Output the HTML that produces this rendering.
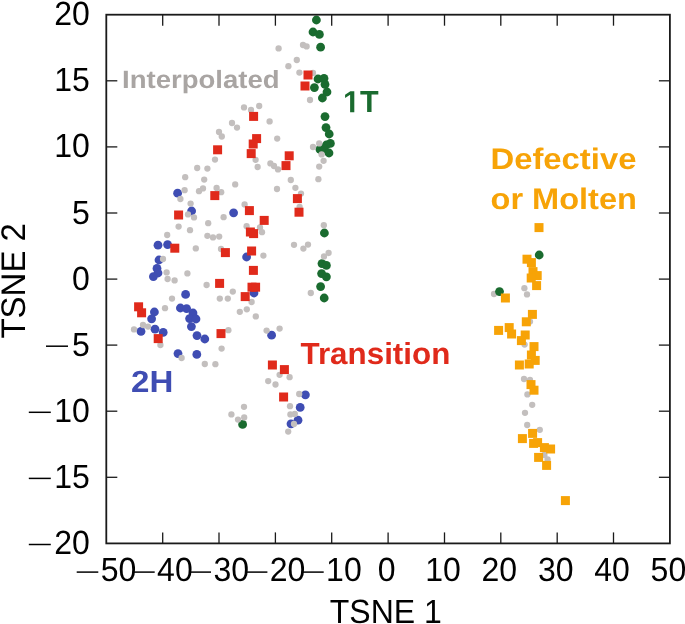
<!DOCTYPE html>
<html><head><meta charset="utf-8"><title>TSNE</title>
<style>
html,body{margin:0;padding:0;background:#fff;}
body{width:685px;height:624px;overflow:hidden;position:relative;font-family:"Liberation Sans",sans-serif;}
svg{position:absolute;left:0;top:0;display:block;will-change:transform;opacity:0.999;}
text{font-family:"Liberation Sans",sans-serif;text-rendering:geometricPrecision;}
.tk{font-size:33.5px;fill:#000;}
.b{font-weight:bold;}
</style></head><body>
<svg width="685" height="624" viewBox="0 0 685 624">
<g fill="#3f4db3"><circle cx="177.6" cy="193.2" r="4.40"/><circle cx="191.6" cy="211.0" r="4.40"/><circle cx="233.6" cy="212.8" r="4.40"/><circle cx="158.0" cy="245.2" r="4.40"/><circle cx="167.6" cy="244.6" r="4.40"/><circle cx="159.0" cy="260.0" r="4.40"/><circle cx="246.6" cy="257.0" r="4.40"/><circle cx="157.0" cy="268.4" r="4.40"/><circle cx="158.0" cy="273.0" r="4.40"/><circle cx="153.4" cy="276.6" r="4.40"/><circle cx="185.6" cy="294.4" r="4.40"/><circle cx="180.4" cy="308.0" r="4.40"/><circle cx="186.6" cy="308.6" r="4.40"/><circle cx="193.0" cy="313.0" r="4.40"/><circle cx="189.6" cy="318.6" r="4.40"/><circle cx="196.0" cy="319.0" r="4.40"/><circle cx="191.4" cy="326.6" r="4.40"/><circle cx="197.0" cy="335.6" r="4.40"/><circle cx="204.8" cy="339.0" r="4.40"/><circle cx="154.4" cy="312.0" r="4.40"/><circle cx="151.6" cy="318.8" r="4.40"/><circle cx="155.0" cy="329.2" r="4.40"/><circle cx="163.2" cy="332.4" r="4.40"/><circle cx="141.0" cy="331.4" r="4.40"/><circle cx="178.0" cy="353.6" r="4.40"/><circle cx="196.8" cy="354.4" r="4.40"/><circle cx="254.0" cy="293.0" r="4.40"/><circle cx="271.6" cy="335.2" r="4.40"/><circle cx="305.4" cy="394.8" r="4.40"/><circle cx="300.2" cy="407.4" r="4.40"/><circle cx="298.0" cy="420.2" r="4.40"/><circle cx="291.0" cy="423.8" r="4.40"/></g>
<g fill="#1a6b2f"><circle cx="316.4" cy="20.0" r="4.40"/><circle cx="313.0" cy="32.0" r="4.40"/><circle cx="319.4" cy="34.4" r="4.40"/><circle cx="320.6" cy="47.2" r="4.40"/><circle cx="318.0" cy="79.0" r="4.40"/><circle cx="324.0" cy="78.4" r="4.40"/><circle cx="325.0" cy="84.4" r="4.40"/><circle cx="314.4" cy="87.6" r="4.40"/><circle cx="327.0" cy="92.0" r="4.40"/><circle cx="322.4" cy="98.0" r="4.40"/><circle cx="325.0" cy="116.6" r="4.40"/><circle cx="326.0" cy="127.6" r="4.40"/><circle cx="329.2" cy="134.0" r="4.40"/><circle cx="330.4" cy="143.4" r="4.40"/><circle cx="326.4" cy="145.0" r="4.40"/><circle cx="320.0" cy="149.4" r="4.40"/><circle cx="324.0" cy="149.0" r="4.40"/><circle cx="329.0" cy="153.0" r="4.40"/><circle cx="324.4" cy="233.0" r="4.40"/><circle cx="322.0" cy="263.6" r="4.40"/><circle cx="326.4" cy="265.4" r="4.40"/><circle cx="321.6" cy="273.6" r="4.40"/><circle cx="326.4" cy="276.8" r="4.40"/><circle cx="320.6" cy="286.6" r="4.40"/><circle cx="324.2" cy="298.0" r="4.40"/><circle cx="242.6" cy="424.4" r="4.40"/></g>
<g fill="#c3bfbe"><circle cx="278.6" cy="48.4" r="3.15"/><circle cx="303.0" cy="45.0" r="3.15"/><circle cx="306.6" cy="46.4" r="3.15"/><circle cx="296.8" cy="60.0" r="3.15"/><circle cx="288.4" cy="66.2" r="3.15"/><circle cx="299.4" cy="72.6" r="3.15"/><circle cx="313.0" cy="73.0" r="3.15"/><circle cx="310.0" cy="100.0" r="3.15"/><circle cx="244.0" cy="107.4" r="3.15"/><circle cx="259.2" cy="106.0" r="3.15"/><circle cx="251.0" cy="110.0" r="3.15"/><circle cx="269.6" cy="121.4" r="3.15"/><circle cx="232.0" cy="123.0" r="3.15"/><circle cx="237.0" cy="127.6" r="3.15"/><circle cx="219.0" cy="132.0" r="3.15"/><circle cx="221.8" cy="136.5" r="3.15"/><circle cx="215.0" cy="159.6" r="3.15"/><circle cx="197.2" cy="168.0" r="3.15"/><circle cx="207.4" cy="168.6" r="3.15"/><circle cx="185.2" cy="177.2" r="3.15"/><circle cx="204.2" cy="179.6" r="3.15"/><circle cx="235.2" cy="184.4" r="3.15"/><circle cx="216.6" cy="188.0" r="3.15"/><circle cx="221.2" cy="192.2" r="3.15"/><circle cx="203.0" cy="188.4" r="3.15"/><circle cx="199.0" cy="191.2" r="3.15"/><circle cx="184.6" cy="190.2" r="3.15"/><circle cx="180.4" cy="199.0" r="3.15"/><circle cx="190.6" cy="203.6" r="3.15"/><circle cx="244.6" cy="204.4" r="3.15"/><circle cx="188.0" cy="214.4" r="3.15"/><circle cx="194.0" cy="217.4" r="3.15"/><circle cx="223.6" cy="217.2" r="3.15"/><circle cx="208.2" cy="223.2" r="3.15"/><circle cx="178.6" cy="226.6" r="3.15"/><circle cx="190.0" cy="230.2" r="3.15"/><circle cx="246.6" cy="226.2" r="3.15"/><circle cx="167.2" cy="235.0" r="3.15"/><circle cx="207.4" cy="235.8" r="3.15"/><circle cx="213.0" cy="237.4" r="3.15"/><circle cx="219.2" cy="236.6" r="3.15"/><circle cx="195.8" cy="248.4" r="3.15"/><circle cx="221.0" cy="249.0" r="3.15"/><circle cx="163.0" cy="259.0" r="3.15"/><circle cx="277.2" cy="138.6" r="3.15"/><circle cx="255.6" cy="159.8" r="3.15"/><circle cx="257.6" cy="167.0" r="3.15"/><circle cx="270.4" cy="163.4" r="3.15"/><circle cx="274.0" cy="166.0" r="3.15"/><circle cx="278.0" cy="169.4" r="3.15"/><circle cx="290.8" cy="180.0" r="3.15"/><circle cx="295.4" cy="187.8" r="3.15"/><circle cx="301.0" cy="193.6" r="3.15"/><circle cx="277.0" cy="189.0" r="3.15"/><circle cx="299.6" cy="207.0" r="3.15"/><circle cx="260.0" cy="227.4" r="3.15"/><circle cx="262.0" cy="232.2" r="3.15"/><circle cx="294.0" cy="244.8" r="3.15"/><circle cx="308.0" cy="244.6" r="3.15"/><circle cx="303.4" cy="248.6" r="3.15"/><circle cx="263.4" cy="255.6" r="3.15"/><circle cx="319.2" cy="143.4" r="3.15"/><circle cx="313.0" cy="147.0" r="3.15"/><circle cx="321.6" cy="154.4" r="3.15"/><circle cx="323.6" cy="160.8" r="3.15"/><circle cx="319.2" cy="166.6" r="3.15"/><circle cx="318.4" cy="179.2" r="3.15"/><circle cx="323.8" cy="225.2" r="3.15"/><circle cx="328.6" cy="253.0" r="3.15"/><circle cx="324.0" cy="256.4" r="3.15"/><circle cx="166.6" cy="272.4" r="3.15"/><circle cx="167.6" cy="279.0" r="3.15"/><circle cx="174.6" cy="280.4" r="3.15"/><circle cx="187.4" cy="273.4" r="3.15"/><circle cx="206.6" cy="285.0" r="3.15"/><circle cx="232.8" cy="291.6" r="3.15"/><circle cx="219.8" cy="298.6" r="3.15"/><circle cx="227.8" cy="298.6" r="3.15"/><circle cx="172.0" cy="298.6" r="3.15"/><circle cx="165.0" cy="308.2" r="3.15"/><circle cx="239.8" cy="311.8" r="3.15"/><circle cx="246.8" cy="309.3" r="3.15"/><circle cx="134.0" cy="329.4" r="3.15"/><circle cx="143.0" cy="325.0" r="3.15"/><circle cx="148.0" cy="326.6" r="3.15"/><circle cx="228.4" cy="330.2" r="3.15"/><circle cx="160.4" cy="345.0" r="3.15"/><circle cx="221.6" cy="348.6" r="3.15"/><circle cx="181.6" cy="358.0" r="3.15"/><circle cx="204.8" cy="364.0" r="3.15"/><circle cx="215.4" cy="364.2" r="3.15"/><circle cx="310.8" cy="293.0" r="3.15"/><circle cx="251.6" cy="302.0" r="3.15"/><circle cx="255.8" cy="316.4" r="3.15"/><circle cx="266.6" cy="330.6" r="3.15"/><circle cx="279.6" cy="328.6" r="3.15"/><circle cx="279.6" cy="374.8" r="3.15"/><circle cx="289.6" cy="377.2" r="3.15"/><circle cx="268.2" cy="381.1" r="3.15"/><circle cx="275.5" cy="384.5" r="3.15"/><circle cx="299.2" cy="394.0" r="3.15"/><circle cx="290.0" cy="406.2" r="3.15"/><circle cx="290.4" cy="414.4" r="3.15"/><circle cx="294.8" cy="414.0" r="3.15"/><circle cx="288.2" cy="431.6" r="3.15"/><circle cx="244.0" cy="406.8" r="3.15"/><circle cx="231.4" cy="414.4" r="3.15"/><circle cx="244.2" cy="417.4" r="3.15"/><circle cx="238.0" cy="419.6" r="3.15"/><circle cx="494.0" cy="294.0" r="3.15"/><circle cx="524.4" cy="288.2" r="3.15"/><circle cx="527.0" cy="294.4" r="3.15"/><circle cx="530.0" cy="321.6" r="3.15"/><circle cx="524.6" cy="344.6" r="3.15"/><circle cx="524.0" cy="379.0" r="3.15"/><circle cx="530.0" cy="380.0" r="3.15"/><circle cx="527.4" cy="394.4" r="3.15"/><circle cx="532.2" cy="404.8" r="3.15"/><circle cx="525.0" cy="412.8" r="3.15"/><circle cx="527.2" cy="425.0" r="3.15"/><circle cx="539.8" cy="429.8" r="3.15"/><circle cx="544.4" cy="455.0" r="3.15"/><circle cx="547.6" cy="459.4" r="3.15"/><circle cx="294.0" cy="424.0" r="3.15"/></g>
<g fill="#1a6b2f"><circle cx="539.2" cy="255.0" r="4.40"/><circle cx="499.5" cy="291.6" r="4.40"/></g>
<g fill="#e02a1b"><rect x="303.5" y="70.5" width="9.0" height="9.0"/><rect x="300.5" y="81.5" width="9.0" height="9.0"/><rect x="249.1" y="111.9" width="9.0" height="9.0"/><rect x="252.1" y="134.1" width="9.0" height="9.0"/><rect x="248.7" y="139.5" width="9.0" height="9.0"/><rect x="246.7" y="149.1" width="9.0" height="9.0"/><rect x="284.7" y="151.3" width="9.0" height="9.0"/><rect x="281.5" y="161.1" width="9.0" height="9.0"/><rect x="213.1" y="145.3" width="9.0" height="9.0"/><rect x="210.3" y="191.1" width="9.0" height="9.0"/><rect x="174.1" y="210.5" width="9.0" height="9.0"/><rect x="170.3" y="243.7" width="9.0" height="9.0"/><rect x="220.9" y="248.1" width="9.0" height="9.0"/><rect x="292.9" y="194.1" width="9.0" height="9.0"/><rect x="294.5" y="207.7" width="9.0" height="9.0"/><rect x="244.9" y="206.1" width="9.0" height="9.0"/><rect x="259.7" y="215.9" width="9.0" height="9.0"/><rect x="245.9" y="227.5" width="9.0" height="9.0"/><rect x="249.1" y="229.1" width="9.0" height="9.0"/><rect x="247.1" y="246.5" width="9.0" height="9.0"/><rect x="215.1" y="278.9" width="9.0" height="9.0"/><rect x="240.7" y="292.1" width="9.0" height="9.0"/><rect x="134.1" y="302.3" width="9.0" height="9.0"/><rect x="137.1" y="308.3" width="9.0" height="9.0"/><rect x="153.7" y="334.1" width="9.0" height="9.0"/><rect x="216.5" y="329.1" width="9.0" height="9.0"/><rect x="248.9" y="265.9" width="9.0" height="9.0"/><rect x="247.5" y="282.7" width="9.0" height="9.0"/><rect x="251.1" y="282.7" width="9.0" height="9.0"/><rect x="267.9" y="360.5" width="9.0" height="9.0"/><rect x="279.9" y="365.1" width="9.0" height="9.0"/><rect x="279.1" y="392.5" width="9.0" height="9.0"/></g>
<g fill="#f7a307"><rect x="534.5" y="223.1" width="9.0" height="9.0"/><rect x="522.5" y="254.7" width="9.0" height="9.0"/><rect x="526.9" y="258.1" width="9.0" height="9.0"/><rect x="528.5" y="267.1" width="9.0" height="9.0"/><rect x="532.7" y="271.1" width="9.0" height="9.0"/><rect x="526.7" y="273.5" width="9.0" height="9.0"/><rect x="532.1" y="281.1" width="9.0" height="9.0"/><rect x="500.9" y="293.5" width="9.0" height="9.0"/><rect x="527.9" y="309.9" width="9.0" height="9.0"/><rect x="521.8" y="317.3" width="9.0" height="9.0"/><rect x="504.7" y="323.1" width="9.0" height="9.0"/><rect x="494.1" y="325.9" width="9.0" height="9.0"/><rect x="507.1" y="329.5" width="9.0" height="9.0"/><rect x="520.7" y="330.5" width="9.0" height="9.0"/><rect x="516.9" y="336.1" width="9.0" height="9.0"/><rect x="529.5" y="342.1" width="9.0" height="9.0"/><rect x="526.9" y="350.5" width="9.0" height="9.0"/><rect x="530.7" y="355.9" width="9.0" height="9.0"/><rect x="524.7" y="359.5" width="9.0" height="9.0"/><rect x="514.9" y="360.5" width="9.0" height="9.0"/><rect x="526.5" y="380.1" width="9.0" height="9.0"/><rect x="529.5" y="385.7" width="9.0" height="9.0"/><rect x="528.1" y="428.9" width="9.0" height="9.0"/><rect x="517.9" y="434.1" width="9.0" height="9.0"/><rect x="529.1" y="438.9" width="9.0" height="9.0"/><rect x="533.1" y="438.1" width="9.0" height="9.0"/><rect x="539.9" y="443.1" width="9.0" height="9.0"/><rect x="546.1" y="444.5" width="9.0" height="9.0"/><rect x="534.1" y="452.9" width="9.0" height="9.0"/><rect x="542.1" y="460.9" width="9.0" height="9.0"/><rect x="560.9" y="496.1" width="9.0" height="9.0"/></g>
<rect x="106.3" y="14.7" width="563.6" height="528.7" fill="none" stroke="#1a1a1a" stroke-width="1.8"/>
<g stroke="#1a1a1a" stroke-width="1.3"><line x1="162.7" y1="14.7" x2="162.7" y2="25.7"/><line x1="162.7" y1="543.4" x2="162.7" y2="532.4"/><line x1="219.0" y1="14.7" x2="219.0" y2="25.7"/><line x1="219.0" y1="543.4" x2="219.0" y2="532.4"/><line x1="275.4" y1="14.7" x2="275.4" y2="25.7"/><line x1="275.4" y1="543.4" x2="275.4" y2="532.4"/><line x1="331.7" y1="14.7" x2="331.7" y2="25.7"/><line x1="331.7" y1="543.4" x2="331.7" y2="532.4"/><line x1="388.1" y1="14.7" x2="388.1" y2="25.7"/><line x1="388.1" y1="543.4" x2="388.1" y2="532.4"/><line x1="444.5" y1="14.7" x2="444.5" y2="25.7"/><line x1="444.5" y1="543.4" x2="444.5" y2="532.4"/><line x1="500.8" y1="14.7" x2="500.8" y2="25.7"/><line x1="500.8" y1="543.4" x2="500.8" y2="532.4"/><line x1="557.2" y1="14.7" x2="557.2" y2="25.7"/><line x1="557.2" y1="543.4" x2="557.2" y2="532.4"/><line x1="613.5" y1="14.7" x2="613.5" y2="25.7"/><line x1="613.5" y1="543.4" x2="613.5" y2="532.4"/><line x1="106.3" y1="477.3" x2="117.3" y2="477.3"/><line x1="669.9" y1="477.3" x2="658.9" y2="477.3"/><line x1="106.3" y1="411.2" x2="117.3" y2="411.2"/><line x1="669.9" y1="411.2" x2="658.9" y2="411.2"/><line x1="106.3" y1="345.1" x2="117.3" y2="345.1"/><line x1="669.9" y1="345.1" x2="658.9" y2="345.1"/><line x1="106.3" y1="279.1" x2="117.3" y2="279.1"/><line x1="669.9" y1="279.1" x2="658.9" y2="279.1"/><line x1="106.3" y1="213.0" x2="117.3" y2="213.0"/><line x1="669.9" y1="213.0" x2="658.9" y2="213.0"/><line x1="106.3" y1="146.9" x2="117.3" y2="146.9"/><line x1="669.9" y1="146.9" x2="658.9" y2="146.9"/><line x1="106.3" y1="80.8" x2="117.3" y2="80.8"/><line x1="669.9" y1="80.8" x2="658.9" y2="80.8"/></g>
<text class="tk" transform="translate(89.8,553.9) scale(0.955,1)" text-anchor="end">20</text>
<line x1="28.8" y1="544.5" x2="50.8" y2="544.5" stroke="#000" stroke-width="1.5"/>
<text class="tk" transform="translate(89.8,487.8) scale(0.955,1)" text-anchor="end">15</text>
<line x1="28.8" y1="478.4" x2="50.8" y2="478.4" stroke="#000" stroke-width="1.5"/>
<text class="tk" transform="translate(89.8,421.7) scale(0.955,1)" text-anchor="end">10</text>
<line x1="28.8" y1="412.3" x2="50.8" y2="412.3" stroke="#000" stroke-width="1.5"/>
<text class="tk" transform="translate(89.8,355.6) scale(0.955,1)" text-anchor="end">5</text>
<line x1="46.0" y1="346.2" x2="68.0" y2="346.2" stroke="#000" stroke-width="1.5"/>
<text class="tk" transform="translate(89.8,289.6) scale(0.955,1)" text-anchor="end">0</text>
<text class="tk" transform="translate(89.8,223.5) scale(0.955,1)" text-anchor="end">5</text>
<text class="tk" transform="translate(89.8,157.4) scale(0.955,1)" text-anchor="end">10</text>
<text class="tk" transform="translate(89.8,91.3) scale(0.955,1)" text-anchor="end">15</text>
<text class="tk" transform="translate(89.8,25.2) scale(0.955,1)" text-anchor="end">20</text>
<text class="tk" transform="translate(118.5,580.7) scale(0.955,1)" text-anchor="middle">50</text>
<line x1="76.7" y1="572.1" x2="98.3" y2="572.1" stroke="#000" stroke-width="1.5"/>
<text class="tk" transform="translate(174.9,580.7) scale(0.955,1)" text-anchor="middle">40</text>
<line x1="133.1" y1="572.1" x2="154.7" y2="572.1" stroke="#000" stroke-width="1.5"/>
<text class="tk" transform="translate(231.2,580.7) scale(0.955,1)" text-anchor="middle">30</text>
<line x1="189.4" y1="572.1" x2="211.0" y2="572.1" stroke="#000" stroke-width="1.5"/>
<text class="tk" transform="translate(287.6,580.7) scale(0.955,1)" text-anchor="middle">20</text>
<line x1="245.8" y1="572.1" x2="267.4" y2="572.1" stroke="#000" stroke-width="1.5"/>
<text class="tk" transform="translate(343.9,580.7) scale(0.955,1)" text-anchor="middle">10</text>
<line x1="302.1" y1="572.1" x2="323.7" y2="572.1" stroke="#000" stroke-width="1.5"/>
<text class="tk" transform="translate(386.6,580.7) scale(0.955,1)" text-anchor="middle">0</text>
<text class="tk" transform="translate(443.0,580.7) scale(0.955,1)" text-anchor="middle">10</text>
<text class="tk" transform="translate(499.3,580.7) scale(0.955,1)" text-anchor="middle">20</text>
<text class="tk" transform="translate(555.7,580.7) scale(0.955,1)" text-anchor="middle">30</text>
<text class="tk" transform="translate(612.0,580.7) scale(0.955,1)" text-anchor="middle">40</text>
<text class="tk" transform="translate(668.4,580.7) scale(0.955,1)" text-anchor="middle">50</text>
<text class="tk" transform="translate(385.8,622.9) scale(0.955,1)" text-anchor="middle">TSNE 1</text>
<text class="tk" transform="translate(25.2,280.8) rotate(-90) scale(0.985,1.02)" text-anchor="middle">TSNE 2</text>
<text class="b" transform="translate(122.00,88.20) scale(1.102,1)" font-size="25" fill="#a9a5a3">Interpolated</text>
<path transform="translate(343,112.2) scale(0.014893,-0.014893)" fill="#1a6b2f" d="M478 0V1170L140 959V1180L493 1409H759V0Z"/>
<text class="b" transform="translate(359.96,112.20) scale(1.000,1)" font-size="30.5" fill="#1a6b2f">T</text>
<text class="b" transform="translate(131.00,391.80) scale(1.085,1)" font-size="30.5" fill="#3f4db3">2H</text>
<text class="b" transform="translate(300.50,363.50) scale(1.028,1)" font-size="30.5" fill="#e02a1b">Transition</text>
<text class="b" transform="translate(490.50,169.20) scale(1.105,1)" font-size="29.7" fill="#f7a307">Defective</text>
<text class="b" transform="translate(490.50,208.90) scale(1.096,1)" font-size="29.7" fill="#f7a307">or Molten</text>
</svg>
</body></html>
